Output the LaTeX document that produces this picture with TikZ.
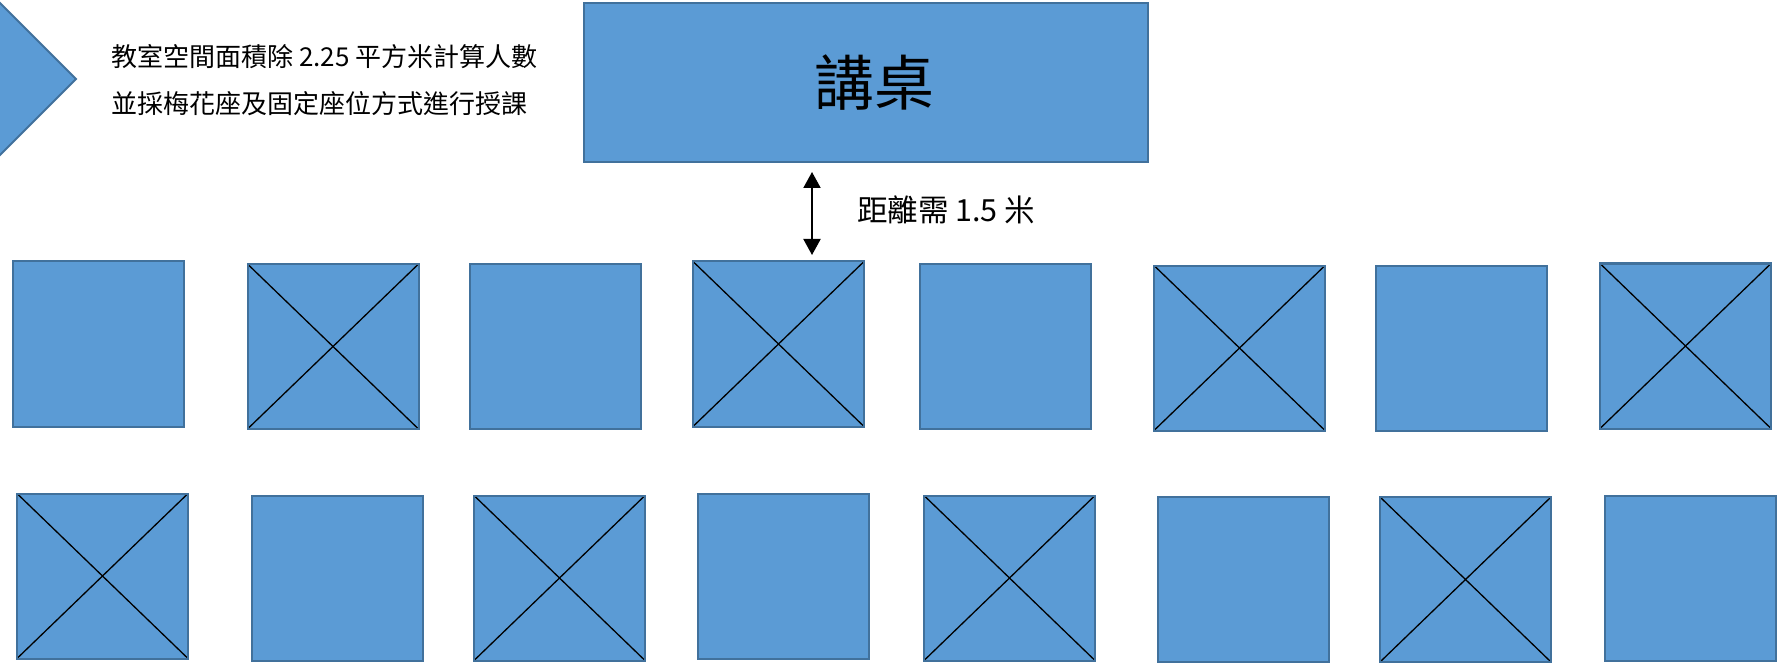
\documentclass[tikz,border=0pt]{standalone}
\usepackage{fontspec}
\setmainfont{Noto Sans CJK TC}
\usetikzlibrary{positioning,arrows.meta}
\definecolor{seatblue}{RGB}{91,155,213}
\definecolor{seatedge}{RGB}{65,113,156}

\begin{document}
\begin{tikzpicture}[x=1pt, y=-1pt,
	block/.style = {draw=seatedge, line width=2pt, fill=seatblue, inner sep=0pt},
	seat/.style = {block, minimum width=171pt, minimum height=165pt},
	taken/.style = {seat, path picture={
		\draw[black, line width=1.3pt] (path picture bounding box.north west) -- (path picture bounding box.south east)
			(path picture bounding box.south west) -- (path picture bounding box.north east);}},
	note/.style = {anchor=west, inner sep=0pt, font=\fontsize{26}{31}\selectfont}]
\useasboundingbox (0,0) rectangle (1778,663);

% pointer and notes
\draw[draw=seatedge, line width=2pt, fill=seatblue] (-10,-7) -- (76,79) -- (-10,165) -- cycle;
\node[note] (note 1) at (111,57)  {教室空間面積除 2.25 平方米計算人數};
\node[note] (note 2) at (111,104) {並採梅花座及固定座位方式進行授課};

\node[block, minimum width=564pt, minimum height=159pt, font=\fontsize{60}{72}\selectfont] (desk) at (866,82.5) {\hspace*{16pt}講桌};

% front row
\node[seat]  (front 1) at (98.5,344)   {};
\node[taken] (front 2) at (333,346.5)  {};
\node[seat]  (front 3) at (555,346.5)  {};
\node[taken] (front 4) at (778.5,344)  {};
\node[seat]  (front 5) at (1005.5,346.5) {};
\node[taken] (front 6) at (1239.5,348) {};
\node[seat]  (front 7) at (1461.5,348) {};
\node[taken] (front 8) at (1685.5,346) {};

% back row
\node[taken] (back 1) at (102.5,576)  {};
\node[seat]  (back 2) at (337,578)    {};
\node[taken] (back 3) at (559.5,578)  {};
\node[seat]  (back 4) at (783,576)    {};
\node[taken] (back 5) at (1009.5,578) {};
\node[seat]  (back 6) at (1243.5,579.5) {};
\node[taken] (back 7) at (1465.5,579.5) {};
\node[seat]  (back 8) at (1690,578)   {};

\coordinate (gap) at (812,210);
\draw[{Triangle[width=17pt,length=16pt]}-{Triangle[width=17pt,length=16pt]}, line width=2pt, shorten <=9pt, shorten >=5.5pt]
	(gap |- desk.south) -- (gap |- front 4.north);
\node[right=45pt of gap, inner sep=0pt, font=\fontsize{30.5}{36}\selectfont] (gap label) {距離需 1.5 米};

\end{tikzpicture}
\end{document}
